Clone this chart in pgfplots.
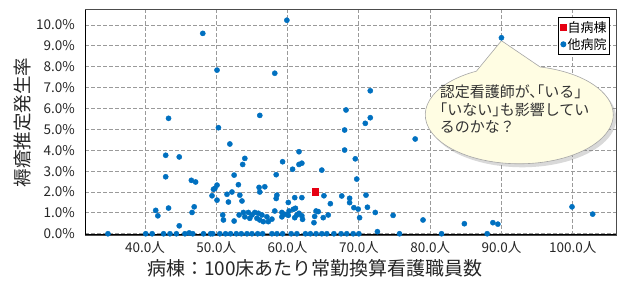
\documentclass[border=0pt]{standalone}
\usepackage{pgfplots}
\pgfplotsset{compat=1.18}
\usepackage{fontspec}
\setmainfont{Noto Sans CJK JP}
\newfontfamily\bubblefont[RawFeature=+halt]{Noto Sans CJK JP}
\usetikzlibrary{shapes.callouts,shadows}
\definecolor{ptblue}{HTML}{0070C0}
\definecolor{ptred}{HTML}{E60012}
\definecolor{bubble}{HTML}{FFFDE3}
\definecolor{gridc}{HTML}{9A9A9A}
\pgfplotsset{dotlegend/.style={legend image code/.code={\draw[##1] plot coordinates {(0.08cm,0cm)};}}}
\begin{document}
\begin{tikzpicture}
\path[use as bounding box] (0,0) rectangle (622bp,281bp);
\begin{axis}[
  at={(85bp,46bp)}, anchor=south west,
  scale only axis, width=531bp, height=225bp,
  xmin=31.58, xmax=106.07, ymin=-0.06, ymax=10.72,
  xtick={40,50,60,70,80,90,100},
  ytick={0,1,2,3,4,5,6,7,8,9,10},
  major tick length=0pt,
  grid=major,
  grid style={gridc, line width=0.8bp, dash pattern=on 3.5bp off 2.5bp},
  axis line style={draw=gray!60!black, line width=1bp},
  /pgf/number format/assume math mode=true,
  xticklabel={\pgfmathprintnumber[fixed,fixed zerofill,precision=1]{\tick}人},
  yticklabel={\pgfmathprintnumber[fixed,fixed zerofill,precision=1]{\tick}\%},
  tick label style={font=\fontsize{13.5bp}{15bp}\selectfont, text=black!85, inner sep=0pt},
  yticklabel style={xshift=-10bp},
  xticklabel style={yshift=-6bp},
  xlabel={病棟：100床あたり常勤換算看護職員数},
  ylabel={褥瘡推定発生率},
  xlabel style={at={(rel axis cs:0.433,-0.1467)}, anchor=center, font=\fontsize{19bp}{21bp}\selectfont, text=black!85},
  ylabel style={at={(rel axis cs:-0.1186,0.5)}, anchor=center, font=\fontsize{18.5bp}{20bp}\selectfont, text=black!85},
  reverse legend,
  legend style={at={(rel axis cs:0.9887,0.970)}, anchor=north east, draw=black, line width=0.8bp, fill=white,
    font=\fontsize{13bp}{15bp}\selectfont, inner xsep=2bp, inner ysep=3bp, row sep=2.5bp,
    nodes={inner sep=1bp}},
  legend cell align=left,
]
\addplot[only marks, mark=*, mark size=2.6bp, color=ptblue, dotlegend] coordinates {
(59.9,10.23) (48.1,9.6) (50.1,7.84) (58.2,7.69) (43.3,5.53) (56.1,5.67) (50.3,5.08)
(68.2,5.93) (68.0,4.97) (90.0,9.39) (71.6,6.85) (71.6,5.56) (70.9,5.29) (77.9,4.54)
(51.9,4.30) (68.0,4.01)
(42.9,3.76) (44.8,3.68) (42.9,2.73) (46.5,2.56) (47.1,2.48) (49.6,2.13) (49.4,1.82)
(41.5,1.12) (41.8,0.86) (43.3,1.23) (46.9,1.29) (46.6,1.02) (44.8,0.38)
(54.0,3.61) (53.7,3.32) (59.3,3.45) (61.6,3.93) (60.7,3.09) (52.5,2.81) (58.4,2.83)
(50.1,2.33) (49.8,2.17) (53.1,2.35) (56.0,2.22) (56.8,2.25) (56.1,2.0) (52.2,2.0)
(51.5,1.89) (53.3,1.85) (50.1,1.61) (53.6,1.57) (51.7,1.52) (58.5,1.85) (58.4,1.69)
(61.0,1.73) (60.1,1.50) (50.9,0.90) (51.0,0.66) (52.5,0.61)
(53.2,0.90) (53.8,1.02) (54.5,1.02) (55.0,0.90) (55.4,1.02) (55.9,0.98) (56.4,0.90)
(54.7,0.74) (55.7,0.74) (56.6,0.58) (57.3,0.58) (57.8,0.70) (57.1,0.81) (56.1,0.66)
(54.0,0.81) (58.2,1.09) (59.2,1.02) (59.6,0.93) (60.1,0.88) (59.2,0.81) (61.0,0.77)
(61.6,0.98) (60.2,1.09) (60.8,1.17)
(62.0,3.38) (61.6,3.32) (69.5,3.59) (64.8,3.05) (69.7,2.62)
(62.0,1.73) (65.1,1.82) (67.6,1.81) (68.7,1.70) (68.7,1.49) (71.0,1.85) (66.0,1.44)
(71.2,1.27) (69.3,1.25) (69.9,1.18) (72.3,1.02) (70.1,0.77) (64.0,1.09) (64.3,1.06)
(63.8,0.83) (65.7,0.90) (65.0,0.77) (63.7,0.53) (62.0,0.86) (61.3,0.90) (62.1,0.69)
(61.1,1.22) (72.6,0.10)
(74.8,0.88) (79.0,0.66) (84.8,0.48) (88.8,0.53) (89.5,0.46) (99.9,1.29) (102.8,0.94)
(34.8,0) (40.1,0) (41.0,0) (42.6,0) (43.5,0) (44.4,0) (45.6,0) (46.2,0.04) (46.7,0)
(48.2,0) (49.2,0) (49.5,0) (50.5,0) (51.3,0) (52.0,0) (52.8,0) (53.5,0) (54.3,0)
(55.0,0) (55.8,0) (56.5,0) (57.8,0) (58.5,0) (59.3,0) (60.5,0) (61.3,0) (62.5,0)
(63.2,0) (64.0,0) (64.8,0) (65.5,0) (66.5,0) (67.5,0) (68.3,0) (69.2,0) (70.0,0)
(75.7,0) (81.6,0) (88.0,0)
};
\addlegendentry{他病院}
\addplot[only marks, mark=square*, mark size=3.2bp, color=ptred, dotlegend] coordinates {
(63.9,2.01)
};
\addlegendentry{自病棟}
\node[ellipse callout, draw=gray!70, line width=0.6bp, fill=bubble,
  minimum width=188bp, minimum height=98bp, inner sep=0pt,
  callout absolute pointer={(axis cs:90.0,9.25)}, callout pointer arc=40,
  drop shadow={opacity=0.3, shadow xshift=3bp, shadow yshift=-3.5bp}]
  at (axis cs:92.5,5.7) {};
\node[align=left, inner sep=0pt, text=black!80,
  font=\bubblefont\fontsize{15bp}{17.5bp}\selectfont] at (axis cs:91.84,5.97)
  {認定看護師が、「いる」\\「いない」も影響してい\\るのかな？};
\draw[black, line width=1.6bp] (rel axis cs:0,1) -- (rel axis cs:0,0) -- (rel axis cs:1,0);
\end{axis}
\end{tikzpicture}
\end{document}
